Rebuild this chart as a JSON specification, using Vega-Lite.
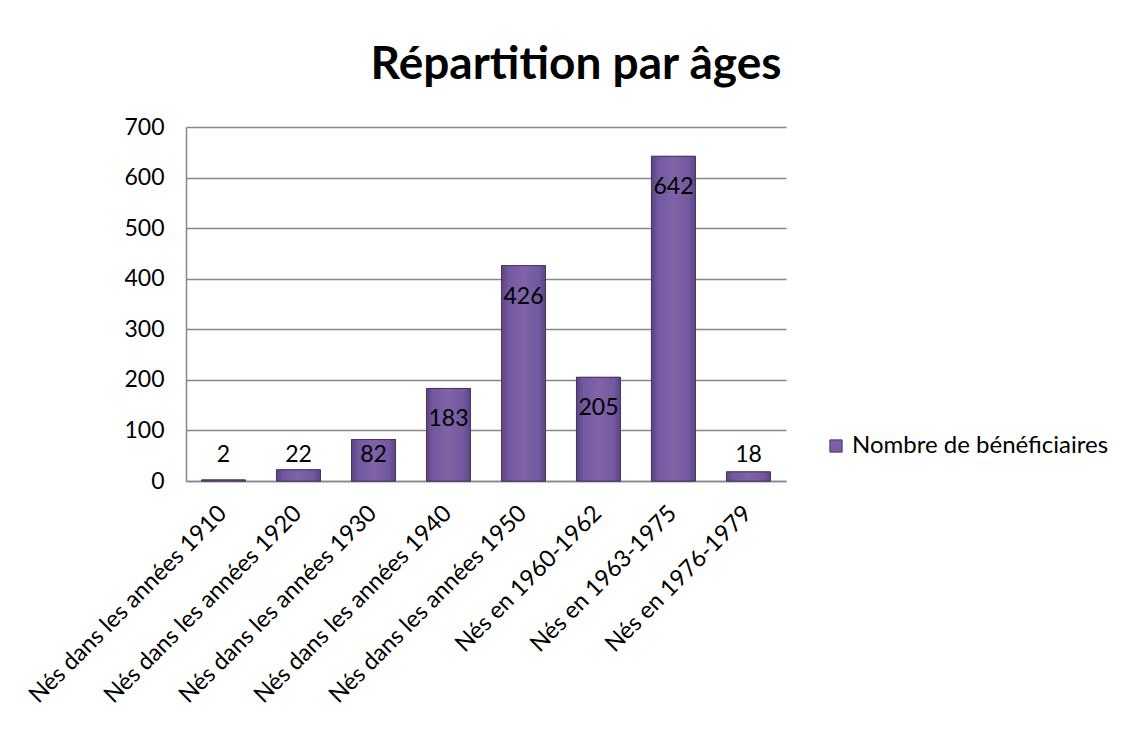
{
  "$schema": "https://vega.github.io/schema/vega-lite/v6.json",
  "autosize": "none",
  "width": 600,
  "height": 354,
  "padding": {"left": 186, "top": 127, "right": 344, "bottom": 250},
  "background": "white",
  "title": {
    "text": "Répartition par âges",
    "font": "Lato",
    "fontSize": 46,
    "fontWeight": "bold",
    "color": "#000000",
    "anchor": "middle",
    "dx": 90,
    "offset": 27
  },
  "data": {
    "values": [
      {"cat": "Nés dans les années 1910", "n": 2},
      {"cat": "Nés dans les années 1920", "n": 22},
      {"cat": "Nés dans les années 1930", "n": 82},
      {"cat": "Nés dans les années 1940", "n": 183},
      {"cat": "Nés dans les années 1950", "n": 426},
      {"cat": "Nés en 1960-1962", "n": 205},
      {"cat": "Nés en 1963-1975", "n": 642},
      {"cat": "Nés en 1976-1979", "n": 18}
    ]
  },
  "encoding": {
    "x": {
      "field": "cat",
      "type": "nominal",
      "sort": null,
      "title": null,
      "scale": {"paddingInner": 0.413, "paddingOuter": 0.2067},
      "axis": {
        "labelAngle": -45,
        "labelFont": "Lato",
        "labelFontSize": 23.5,
        "labelColor": "#000000",
        "labelPadding": 20,
        "labelOffset": -9,
        "ticks": false,
        "domainColor": "#868686",
        "domainWidth": 1.5,
        "grid": false,
        "labelLimit": 500
      }
    }
  },
  "layer": [
    {
      "mark": {"type": "bar", "stroke": "#4b3669", "strokeWidth": 1},
      "encoding": {
        "y": {
          "field": "n",
          "type": "quantitative",
          "title": null,
          "scale": {"domain": [0, 700]},
          "axis": {
            "values": [0, 100, 200, 300, 400, 500, 600, 700],
            "labelFont": "Lato",
            "labelFontSize": 23,
            "labelColor": "#000000",
            "labelPadding": 22,
            "ticks": false,
            "domain": true,
            "domainColor": "#868686",
            "domainWidth": 1.5,
            "grid": true,
            "gridColor": "#868686",
            "gridWidth": 1.5
          }
        },
        "color": {
          "datum": "Nombre de bénéficiaires",
          "type": "nominal",
          "scale": {"range": ["#7b5ea7"]},
          "legend": {
            "title": null,
            "orient": "none",
            "legendX": 638,
            "legendY": 307,
            "symbolType": "square",
            "symbolSize": 150,
            "symbolStrokeColor": "#4b3669",
            "symbolStrokeWidth": 1,
            "labelFont": "Lato",
            "labelFontSize": 24,
            "labelColor": "#000000",
            "labelOffset": 4,
            "labelLimit": 0
          }
        }
      }
    },
    {
      "mark": {
        "type": "bar",
        "stroke": "#4b3669",
        "strokeWidth": 1,
        "fill": {
          "gradient": "linear",
          "x1": 0, "y1": 0, "x2": 1, "y2": 0,
          "stops": [
            {"offset": 0, "color": "#5b4480"},
            {"offset": 0.15, "color": "#7258a0"},
            {"offset": 0.5, "color": "#8064a8"},
            {"offset": 0.85, "color": "#7258a0"},
            {"offset": 1, "color": "#5b4480"}
          ]
        }
      },
      "encoding": {
        "y": {"field": "n", "type": "quantitative"}
      }
    },
    {
      "transform": [{"filter": "datum.n >= 100"}],
      "mark": {"type": "text", "font": "Lato", "fontSize": 23, "color": "#000000", "baseline": "middle", "dy": 31},
      "encoding": {
        "y": {"field": "n", "type": "quantitative"},
        "text": {"field": "n", "type": "quantitative"}
      }
    },
    {
      "transform": [{"filter": "datum.n < 100"}],
      "mark": {"type": "text", "font": "Lato", "fontSize": 23, "color": "#000000", "baseline": "middle", "dy": -26},
      "encoding": {
        "y": {"datum": 0, "type": "quantitative"},
        "text": {"field": "n", "type": "quantitative"}
      }
    }
  ],
  "config": {
    "view": {"stroke": null}
  }
}
